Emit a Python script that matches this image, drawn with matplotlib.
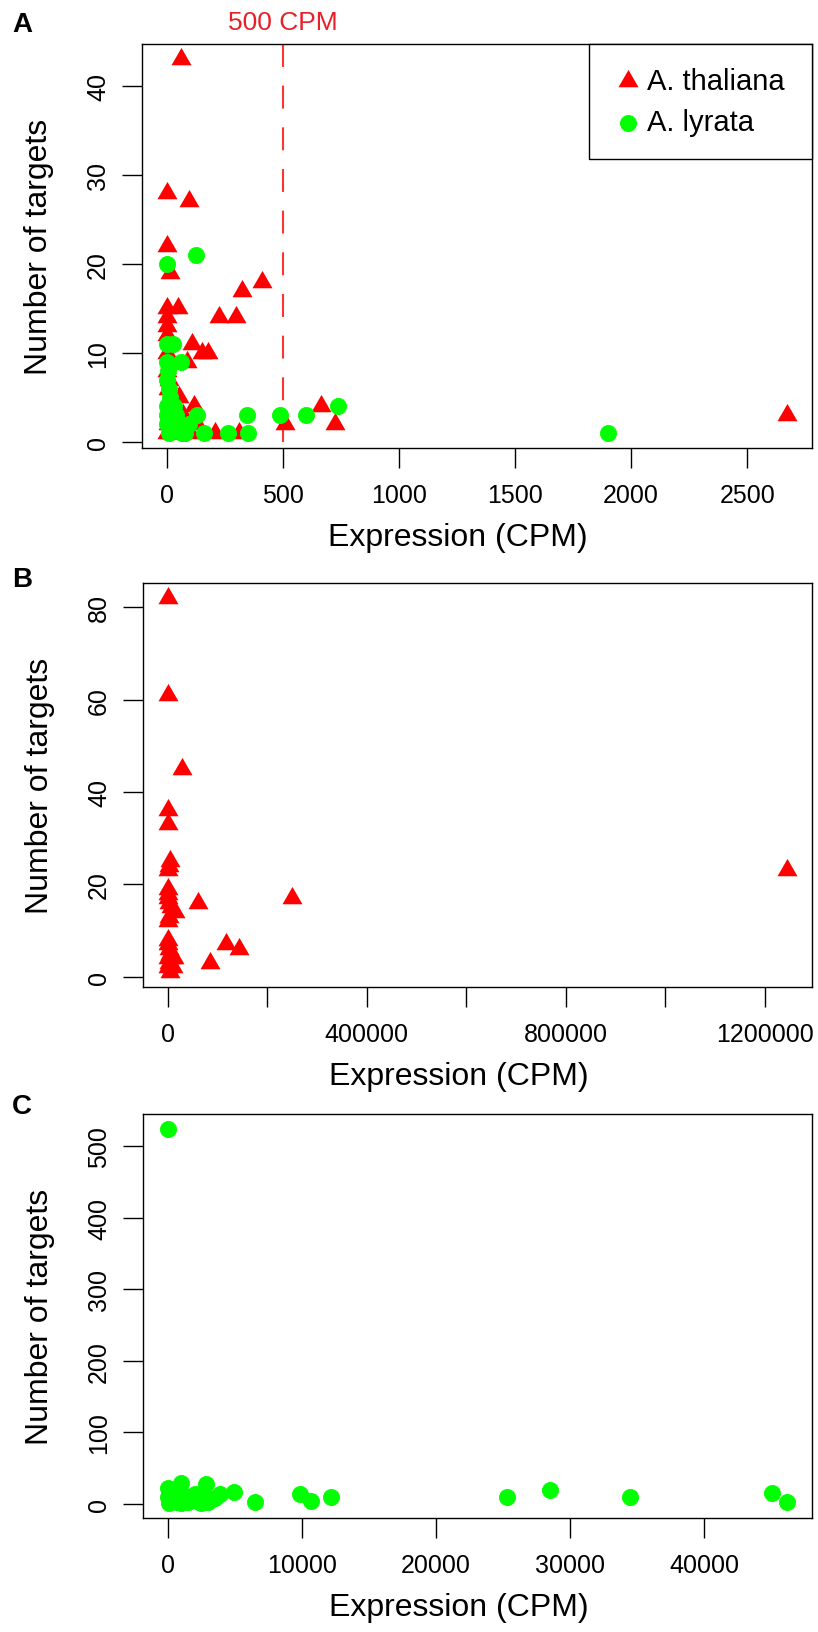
import matplotlib
matplotlib.use("Agg")
import matplotlib.pyplot as plt

plt.rcParams.update({"font.family": ["Liberation Sans", "DejaVu Sans"]})

# --------------------------------------------------------------------------- #
# Panel A: expression vs number of targets, both species
a_thal_x = [63, 0, 97, 0, 14, 323, 412, 0, 47, 223, 297, 0, 0, 0, 110, 151,
            179, 89, 53, 115, 664, 724, 509, 208, 309, 2672, 0, 5, 10, 3, 8,
            2, 15, 1, 20, 30, 45, 70, 100, 130, 25, 60]
a_thal_y = [43, 28, 27, 22, 19, 17, 18, 15, 15, 14, 14, 14, 13, 12, 11, 10,
            10, 9, 5, 4, 4, 2, 2, 1, 1, 3, 1, 2, 3, 6, 7,
            8, 9, 10, 1, 2, 1, 3, 1, 2, 5, 1]
a_lyr_x = [0, 126, 0, 25, 0, 60, 5, 2, 8, 0, 132, 345, 487, 599, 738, 161,
           264, 348, 1901, 10, 67, 39, 96, 0, 0, 54, 30, 80, 20, 15]
a_lyr_y = [20, 21, 11, 11, 9, 9, 8, 7, 6, 4, 3, 3, 3, 3, 4, 1,
           1, 1, 1, 1, 1, 3, 2, 3, 2, 2, 4, 1, 2, 5]

# Panel B: A. thaliana only
b_thal_x = [0, 0, 27900, 0, 0, 4600, 2000, 1000, 0, 0, 0, 6700, 3000, 61600,
            249000, 15500, 117000, 142600, 85000, 0, 1000, 3000, 5000, 0,
            2000, 8000, 0, 4000, 1245000, 1500, 500, 13000, 10000]
b_thal_y = [82, 61, 45, 36, 33, 25, 24, 23, 19, 18, 17, 15, 16, 16,
            17, 14, 7, 6, 3, 8, 7, 6, 5, 4,
            3, 4, 2, 1, 23, 13, 12, 4, 2]

# Panel C: A. lyrata only
c_lyr_x = [0, 40, 960, 2840, 3880, 4940, 6470, 9890, 10680, 12170, 25320,
           28490, 34420, 45030, 46170, 100, 200, 300, 500, 700, 800, 1200,
           1500, 1700, 2030, 2200, 2500, 2700, 3000, 3200, 3510, 50, 150,
           400, 600, 1000, 1300, 2600]
c_lyr_y = [524, 22, 29, 27, 13, 17, 3, 14, 4, 9, 9,
           19, 10, 15, 3, 1, 3, 5, 8, 2, 12, 6,
           2, 10, 14, 4, 1, 8, 3, 6, 8, 10, 15,
           18, 4, 1, 11, 12]

RED = "#FF0000"
GREEN = "#00FF00"
TRI = [(-1, -0.577), (1, -0.577), (0, 1.155)]

W, H = 818, 1633
fig = plt.figure(figsize=(W / 100, H / 100), dpi=100)


def box(left, top, right, bottom):
    return [left / W, 1 - bottom / H, (right - left) / W, (bottom - top) / H]


def style(ax, xticks, xlabels, yticks):
    ax.margins(0.04)
    ax.set_xticks(xticks)
    ax.set_xticklabels(xlabels)
    ax.set_yticks(yticks)
    ax.set_yticklabels([str(t) for t in yticks], rotation=90, va="center")
    ax.tick_params(length=14.4, width=1, labelsize=18, direction="out")
    ax.tick_params(axis="x", pad=10.5)
    ax.tick_params(axis="y", pad=8.5)
    ax.set_xlabel("Expression (CPM)", fontsize=23, labelpad=11)
    ax.set_ylabel("Number of targets", fontsize=23, labelpad=23)
    ax.xaxis.label.set_x(0.472)
    for s in ax.spines.values():
        s.set_linewidth(1)


def thal(ax, x, y):
    return ax.scatter(x, y, marker=TRI, s=277, c=RED, linewidths=0,
                      zorder=2, label="A. thaliana")


def lyr(ax, x, y):
    return ax.scatter(x, y, marker="o", s=135, c=GREEN, edgecolors=GREEN,
                      linewidths=0.6, zorder=3, label="A. lyrata")


# A
axA = fig.add_axes(box(142, 45, 812, 449))
thal(axA, a_thal_x, a_thal_y)
lyr(axA, a_lyr_x, a_lyr_y)
style(axA, [0, 500, 1000, 1500, 2000, 2500],
      ["0", "500", "1000", "1500", "2000", "2500"], [0, 10, 20, 30, 40])
axA.axvline(500, ymin=1, ymax=0, color=RED, alpha=0.8, lw=1.5,
            dashes=(11, 9), zorder=1)
axA.annotate("500 CPM", xy=(500, 1), xycoords=("data", "axes fraction"),
             xytext=(0, 16), textcoords="offset points", ha="center",
             va="center", color="#E8202A", fontsize=19)
leg = axA.legend(loc="upper left", bbox_to_anchor=(0.667, 1, 0.333, 0),
                 mode="expand", borderaxespad=0, fontsize=21, frameon=True,
                 fancybox=False, edgecolor="black", framealpha=1,
                 borderpad=0.78, labelspacing=0.46, handlelength=1.1,
                 handletextpad=0.1, scatterpoints=1)
leg.get_frame().set_linewidth(1)

# B
axB = fig.add_axes(box(143, 584, 812, 988))
thal(axB, b_thal_x, b_thal_y)
style(axB, [0, 200000, 400000, 600000, 800000, 1000000, 1200000],
      ["0", "", "400000", "", "800000", "", "1200000"], [0, 20, 40, 60, 80])

# C
axC = fig.add_axes(box(143, 1115, 812, 1519))
lyr(axC, c_lyr_x, c_lyr_y)
style(axC, [0, 10000, 20000, 30000, 40000],
      ["0", "10000", "20000", "30000", "40000"], [0, 100, 200, 300, 400, 500])

for lab, yy in [("A", 25), ("B", 580), ("C", 1107)]:
    fig.text(22 / W, 1 - yy / H, lab, fontsize=20, fontweight="bold",
             ha="center", va="center")

fig.savefig("out.png", dpi=100)
